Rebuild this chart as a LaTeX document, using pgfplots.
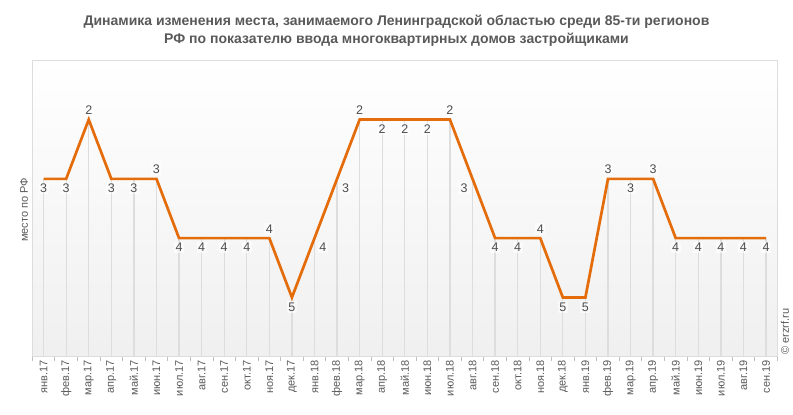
\documentclass[border=0pt]{standalone}
\usepackage{fontspec}
\setmainfont{Liberation Sans}
\usepackage{pgfplots}
\pgfplotsset{compat=1.18}
\usepackage{pgfplotstable}
\definecolor{lineor}{RGB}{228,108,10}
\definecolor{txt}{RGB}{89,89,89}
\definecolor{lbl}{RGB}{77,77,80}
\definecolor{gridc}{RGB}{221,221,221}
\pgfplotstableread{
x y
0 3
1 3
2 2
3 3
4 3
5 3
6 4
7 4
8 4
9 4
10 4
11 5
12 4
13 3
14 2
15 2
16 2
17 2
18 2
19 3
20 4
21 4
22 4
23 5
24 5
25 3
26 3
27 3
28 4
29 4
30 4
31 4
32 4
}\data
\pgfplotsset{lab/.style={draw=none, mark=none, forget plot, point meta=y,
  nodes near coords={\pgfmathprintnumber[assume math mode=true]{\pgfplotspointmeta}},
  every node near coord/.style={anchor=#1, font=\fontsize{12.5}{14}\selectfont, text=lbl,
     inner sep=1.5pt, outer sep=3.5pt, fill=white, fill opacity=0.6, text opacity=1}}}
\begin{document}
\begin{tikzpicture}
\useasboundingbox (0,0) rectangle (793pt,415pt);
\node[align=center, text=txt, font=\fontsize{14}{18}\selectfont\bfseries] at (396.5pt,384pt)
  {Динамика изменения места, занимаемого Ленинградской областью среди 85-ти регионов\\
   РФ по показателю ввода многоквартирных домов застройщиками};
\node[rotate=90, text=txt, font=\fontsize{11}{13}\selectfont] at (24pt,205pt) {место по РФ};
\node[rotate=90, text=txt, font=\fontsize{11}{13}\selectfont, anchor=west] at (785pt,57pt) {© erzrf.ru};
\begin{axis}[
  at={(32.3pt,58.3pt)}, anchor=south west, scale only axis,
  width=745pt, height=296.4pt,
  xmin=-0.5, xmax=32.5, ymin=1, ymax=6, y dir=reverse,
  xtick={0,...,32},
  xticklabels={янв.17,фев.17,мар.17,апр.17,май.17,июн.17,июл.17,авг.17,сен.17,окт.17,ноя.17,дек.17,
    янв.18,фев.18,мар.18,апр.18,май.18,июн.18,июл.18,авг.18,сен.18,окт.18,ноя.18,дек.18,
    янв.19,фев.19,мар.19,апр.19,май.19,июн.19,июл.19,авг.19,сен.19},
  xticklabel style={rotate=90, anchor=east, font=\fontsize{11}{13}\selectfont, text=txt},
  ytick=\empty,
  minor xtick={-0.5,0.5,...,32.5},
  xtick pos=left, tick align=outside,
  major tick length=0pt, minor tick length=4pt,
  minor tick style={draw=gray!50, line width=0.8pt},
  axis line style={draw=gridc, line width=0.9pt},
  axis background/.style={top color=white, bottom color=black!6},
  clip=true,
]
\addplot[draw=none, mark=none, forget plot,
  error bars/.cd, y dir=plus, y fixed=5, error mark=none,
  error bar style={draw=gridc, line width=1.3pt}] table[x=x,y=y]{\data};
\addplot[lineor, line width=2.7pt, mark=none] table[x=x,y=y]{\data};
\addplot[lab=north] coordinates {(0,3) (1,3) (3,3) (4,3) (6,4) (7,4) (8,4) (9,4) (11,5)
  (15,2) (16,2) (17,2) (20,4) (21,4) (23,5) (24,5) (26,3) (28,4) (29,4) (30,4) (31,4) (32,4)};
\addplot[lab=south] coordinates {(2,2) (5,3) (10,4) (14,2) (18,2) (22,4) (25,3) (27,3)};
\addplot[lab=north west] coordinates {(12,4) (13,3)};
\addplot[lab=north east] coordinates {(19,3)};
\end{axis}
\end{tikzpicture}
\end{document}
